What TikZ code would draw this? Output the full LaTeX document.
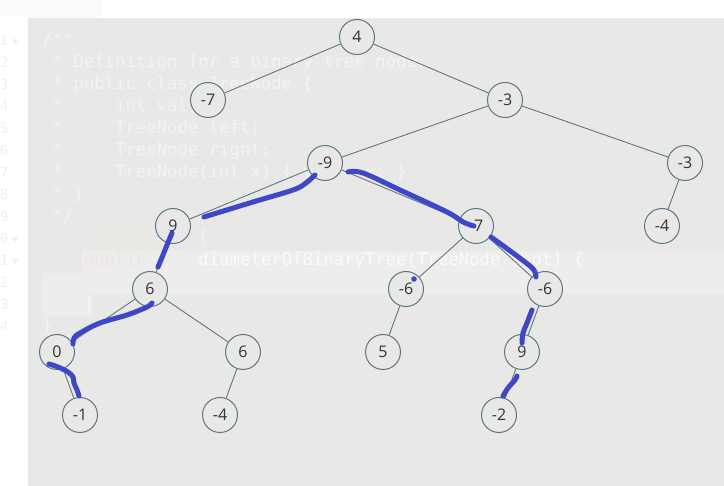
\documentclass[tikz,border=0pt]{standalone}
\usepackage{fontspec}
\setmainfont{Open Sans}
\setmonofont{DejaVu Sans Mono}
\definecolor{panel}{HTML}{E8E8E7}
\definecolor{band}{HTML}{EDEDEC}
\definecolor{topbox}{HTML}{FBFBFB}
\definecolor{codetxt}{HTML}{F3F3F2}
\definecolor{codewhite}{HTML}{FAFAFA}
\definecolor{kwtxt}{HTML}{F1E3E5}
\definecolor{clstxt}{HTML}{F4EBDD}
\definecolor{typtxt}{HTML}{E3EEF1}
\definecolor{lnotxt}{HTML}{F0F0F0}
\definecolor{treeline}{HTML}{5E7784}
\definecolor{nodetxt}{HTML}{333333}
\definecolor{inkblue}{HTML}{3E47CC}

\begin{document}
\begin{tikzpicture}[x=1pt,y=-1pt,
    tn/.style={circle,draw=treeline,line width=1pt,fill=panel,minimum size=35pt,inner sep=0pt,
      text=nodetxt,font=\fontsize{16}{18}\selectfont},
    link/.style={draw=treeline,line width=0.9pt},
    ink/.style={draw=inkblue,line width=5pt,line cap=round,line join=round},
    code/.style={anchor=base west,inner sep=0pt,text=codetxt,font=\ttfamily\fontsize{17.3}{20}\selectfont},
    lno/.style={anchor=base east,inner sep=0pt,text=lnotxt,font=\ttfamily\fontsize{14}{16}\selectfont}]
  \useasboundingbox (0,0) rectangle (724,486);
  \clip (0,0) rectangle (724,486);

  % editor behind the tree
  \fill[topbox] (0,0) rectangle (102,17);
  \fill[panel] (28,18) rectangle (724,486);
  \fill[band] (82,251) rectangle (724,294);
  \fill[band] (42,273) rectangle (92,316);
  \foreach \l in {1,...,14}
    \node[lno] at (8.6,{46+22*(\l-1)}) {\l};
  \foreach \l in {1,10,11}
    \fill[lnotxt] (12,{39.5+22*(\l-1)}) -- ++(6,0) -- ++(-3,5) -- cycle;

  \node[code] at (42,46)    {/**};
  \node[code] at (52.4,68)  {* Definition for a binary tree node.};
  \node[code] at (52.4,90)  {* public class TreeNode \{};
  \node[code] at (52.4,112) {*\ \ \ \ \ int val;};
  \node[code] at (52.4,134) {*\ \ \ \ \ TreeNode left;};
  \node[code] at (52.4,156) {*\ \ \ \ \ TreeNode right;};
  \node[code] at (52.4,178) {*\ \ \ \ \ TreeNode(int x) \{ val = x; \}};
  \node[code] at (52.4,200) {* \}};
  \node[code] at (52.4,222) {*/};
  \node[code] at (42,244)   {\textcolor{kwtxt}{class} \textcolor{clstxt}{Solution} \{};
  \node[code,text=codewhite] at (83.7,266)
    {\textcolor{kwtxt}{public} \textcolor{typtxt}{int} diameterOfBinaryTree(TreeNode root) \{};
  \node[code] at (83.7,310) {\}};
  \node[code] at (42,332)   {\}};

  % tree
  \foreach \nm/\x/\y/\v in {n4/357/37/4, nm7/208/100/-7, nm3/505/100/-3,
      nm9/325/163/-9, nm3b/685/163/-3, n9/173/226/9, nm7b/476/226/-7,
      nm4/662/226/-4, n6/150/289/6, nm6/406/289/-6, nm6b/545/289/-6,
      n0/57/352/0, n6b/243/352/6, n5/383/352/5, n9b/522/352/9,
      nm1/80/415/-1, nm4b/220/415/-4, nm2/499/415/-2}
    \node[tn] (\nm) at (\x,\y) {\v};
  \foreach \a/\b in {n4/nm7, n4/nm3, nm3/nm9, nm3/nm3b, nm9/n9, nm9/nm7b,
      nm3b/nm4, n9/n6, nm7b/nm6, nm7b/nm6b, n6/n0, n6/n6b, nm6/n5,
      nm6b/n9b, n0/nm1, n6b/nm4b, n9b/nm2}
    \draw[link] (\a) -- (\b);

  % hand-drawn diameter path
  \draw[ink] plot[smooth,tension=0.6] coordinates {(204,217) (253,202) (293,190) (306,183) (315,175)};
  \draw[ink] plot[smooth,tension=0.6] coordinates {(348,172) (363,173) (400,190) (447,212) (463,222) (474,226)};
  \draw[ink] plot[smooth,tension=0.6] coordinates {(491,237) (513,253) (530,266) (535,272) (536,277)};
  \fill[inkblue] (414,279) circle (2.8);
  \draw[ink] plot[smooth,tension=0.6] coordinates {(532,310) (527,323) (523,333) (522,343)};
  \draw[ink] plot[smooth,tension=0.6] coordinates {(517,376) (515,380) (508,388) (503,396)};
  \draw[ink] plot[smooth,tension=0.6] coordinates {(172,233) (167,245) (163,255) (158,267)};
  \draw[ink] plot[smooth,tension=0.6] coordinates {(152,303) (147,307) (127,315) (100,323) (80,333) (74,338) (73,344)};
  \draw[ink] plot[smooth,tension=0.6] coordinates {(49,364) (58,367) (68,372) (73,377) (74,383) (77,390) (79,396)};
\end{tikzpicture}
\end{document}
